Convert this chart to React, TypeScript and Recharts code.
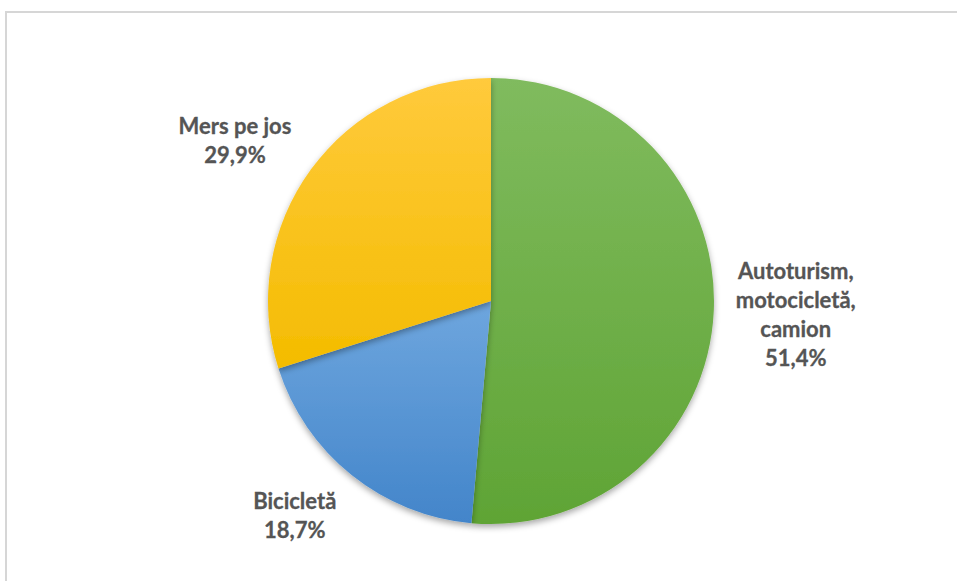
import React from "react";
import { PieChart, Pie, Cell } from "recharts";

const categories = ["Autoturism, motocicletă, camion", "Bicicletă", "Mers pe jos"];
const categoryLines = [["Autoturism,", "motocicletă,", "camion"], ["Bicicletă"], ["Mers pe jos"]];
const values = [51.4, 18.7, 29.9];
const valueLabels = ["51,4%", "18,7%", "29,9%"];

const data = categories.map((name, i) => ({ name, value: values[i], idx: i }));

const gradients = [
  { id: "gGreen", top: "#80bb5e", bottom: "#5fa435" },
  { id: "gBlue", top: "#6ea6de", bottom: "#4385ca" },
  { id: "gYellow", top: "#ffca3c", bottom: "#f4bc00" },
];

const labelOffsets = [
  { dx: 4, dy: 0 },
  { dx: -8, dy: -20 },
  { dx: -13, dy: 17 },
];

const FONT = "Lato, 'Open Sans', sans-serif";
const FS = 22;
const LH = 29;
const RAD = Math.PI / 180;

const renderLabel = (props: any) => {
  const { cx, cy, midAngle, outerRadius, index } = props;
  const r = outerRadius * 1.35;
  const x = cx + r * Math.cos(-midAngle * RAD) + labelOffsets[index].dx;
  const y = cy + r * Math.sin(-midAngle * RAD) + labelOffsets[index].dy;
  const lines = [...categoryLines[index], valueLabels[index]];
  const firstY = y - ((lines.length - 1) * LH) / 2 + 8;
  return (
    <text
      key={`lbl-${index}`}
      x={x}
      y={firstY}
      textAnchor="middle"
      fill="#555555"
      fontFamily={FONT}
      fontWeight={700}
      fontSize={FS}
      stroke="#555555"
      strokeWidth={0.3}
    >
      {lines.map((ln, i) => (
        <tspan key={i} x={x} y={firstY + i * LH}>
          {ln}
        </tspan>
      ))}
    </text>
  );
};

export default function App() {
  return (
    <div style={{ position: "absolute", left: 0, top: 0, width: 957, height: 581, background: "#fff", overflow: "hidden" }}>
      <div
        style={{
          position: "absolute",
          left: 5,
          top: 11,
          width: 1000,
          height: 700,
          borderTop: "2px solid #d6d6d6",
          borderLeft: "2px solid #d6d6d6",
        }}
      />
      <div style={{ position: "absolute", left: 0, top: 0 }}>
        <PieChart width={957} height={581} margin={{ top: 0, right: 0, bottom: 0, left: 0 }}>
          <defs>
            {gradients.map((g) => (
              <linearGradient key={g.id} id={g.id} x1="0" y1="0" x2="0" y2="1">
                <stop offset="0%" stopColor={g.top} />
                <stop offset="100%" stopColor={g.bottom} />
              </linearGradient>
            ))}
            <filter id="pieShadow" x="-20%" y="-20%" width="140%" height="140%">
              <feDropShadow dx="0" dy="3" stdDeviation="3" floodColor="#000" floodOpacity="0.35" />
            </filter>
          </defs>
          <Pie
            data={data}
            dataKey="value"
            nameKey="name"
            cx={491}
            cy={301}
            outerRadius={223}
            startAngle={90}
            endAngle={-270}
            stroke="none"
            labelLine={false}
            label={renderLabel}
            isAnimationActive={false}
            style={{ filter: "url(#pieShadow)" }}
          >
            {data.map((d, i) => (
              <Cell key={i} fill={`url(#${gradients[i].id})`} />
            ))}
          </Pie>
        </PieChart>
      </div>
    </div>
  );
}
